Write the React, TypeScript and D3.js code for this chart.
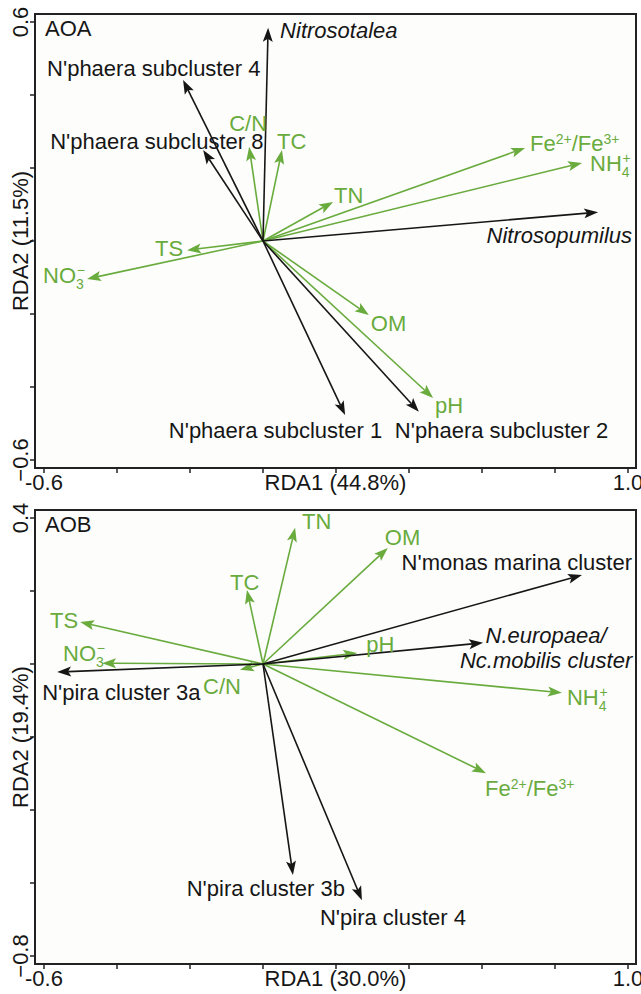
import React, { useEffect } from "react";
import * as d3 from "d3";

// ---- data (RDA1, RDA2 scores) ----
const aoaEnvNames = ["C/N", "TC", "TN", "Fe2+/Fe3+", "NH4+", "TS", "NO3-", "OM", "pH"];
const aoaEnvRDA1 = [-0.038, 0.052, 0.192, 0.718, 0.874, -0.208, -0.482, 0.29, 0.466];
const aoaEnvRDA2 = [0.258, 0.249, 0.107, 0.255, 0.214, -0.025, -0.104, -0.203, -0.43];

const aoaTaxaNames = [
  "Nitrosotalea",
  "N'phaera subcluster 4",
  "N'phaera subcluster 8",
  "Nitrosopumilus",
  "N'phaera subcluster 1",
  "N'phaera subcluster 2",
];
const aoaTaxaRDA1 = [0.014, -0.219, -0.164, 0.918, 0.225, 0.427];
const aoaTaxaRDA2 = [0.584, 0.441, 0.249, 0.079, -0.477, -0.468];

const aobEnvNames = ["TN", "OM", "TC", "TS", "NO3-", "C/N", "pH", "NH4+", "Fe2+/Fe3+"];
const aobEnvRDA1 = [0.088, 0.342, -0.044, -0.501, -0.441, -0.063, 0.258, 0.819, 0.611];
const aobEnvRDA2 = [0.373, 0.318, 0.203, 0.115, 0.002, -0.016, 0.03, -0.079, -0.299];

const aobTaxaNames = [
  "N'monas marina cluster",
  "N.europaea/Nc.mobilis cluster",
  "N'pira cluster 3a",
  "N'pira cluster 3b",
  "N'pira cluster 4",
];
const aobTaxaRDA1 = [0.874, 0.603, -0.564, 0.082, 0.271];
const aobTaxaRDA2 = [0.244, 0.058, -0.022, -0.578, -0.647];

const italicTaxa = ["Nitrosotalea", "Nitrosopumilus", "N.europaea/Nc.mobilis cluster"];

// label placement relative to arrow tip: [dx, dy, anchor]
type Place = [number, number, string];
const aoaPlace: Record<string, Place> = {
  "Nitrosotalea": [12, 2, "start"],
  "N'phaera subcluster 4": [-136, -12, "start"],
  "N'phaera subcluster 8": [-153, -9, "start"],
  "C/N": [-20, -24, "start"],
  "TC": [-5, -9, "start"],
  "TN": [1, -7, "start"],
  "Fe2+/Fe3+": [5, -5, "start"],
  "NH4+": [8, 0, "start"],
  "Nitrosopumilus": [34, 23, "end"],
  "TS": [-4, -2, "end"],
  "NO3-": [-44, -4, "start"],
  "OM": [2, 8, "start"],
  "pH": [2, 7, "start"],
  "N'phaera subcluster 1": [37, 15, "end"],
  "N'phaera subcluster 2": [-24, 18, "start"],
};
const aobPlace: Record<string, Place> = {
  "TN": [7, -7, "start"],
  "OM": [-3, -11, "start"],
  "N'monas marina cluster": [50, -13, "end"],
  "TC": [-17, -8, "start"],
  "TS": [-2, -2, "end"],
  "NO3-": [-39, -10, "start"],
  "N'pira cluster 3a": [-15, 20, "start"],
  "C/N": [-37, 16, "start"],
  "pH": [9, -9, "start"],
  "N.europaea/Nc.mobilis cluster": [63, -8, "middle"],
  "NH4+": [5, 4, "start"],
  "Fe2+/Fe3+": [-1, 15, "start"],
  "N'pira cluster 3b": [52, 13, "end"],
  "N'pira cluster 4": [-42, 17, "start"],
};

const GREEN = "#69ab3d";
const BLACK = "#161616";
const FONT = "'Liberation Sans', Arial, sans-serif";
const FS = 22;

function labelContent(name: string) {
  const small = 14;
  if (name === "NH4+")
    return (
      <>
        NH
        <tspan fontSize={small} dy={6}>4</tspan>
        <tspan fontSize={small} dx={-7} dy={-14}>+</tspan>
      </>
    );
  if (name === "NO3-")
    return (
      <>
        NO
        <tspan fontSize={small} dy={6}>3</tspan>
        <tspan fontSize={small} dx={-7} dy={-14}>−</tspan>
      </>
    );
  if (name === "Fe2+/Fe3+")
    return (
      <>
        Fe
        <tspan fontSize={small} dy={-7}>2+</tspan>
        <tspan dy={7}>/Fe</tspan>
        <tspan fontSize={small} dy={-7}>3+</tspan>
      </>
    );
  if (name === "N.europaea/Nc.mobilis cluster")
    return (
      <>
        <tspan>N.europaea/</tspan>
        <tspan x={0} dy={25}>Nc.mobilis cluster</tspan>
      </>
    );
  return name;
}

type PanelProps = {
  title: string;
  top: number;
  yDomain: [number, number];
  xTitle: string;
  yTitle: string;
  envNames: string[];
  envX: number[];
  envY: number[];
  taxaNames: string[];
  taxaX: number[];
  taxaY: number[];
  place: Record<string, Place>;
};

function Arrow({ x1, y1, x2, y2, color }: any) {
  const len = Math.hypot(x2 - x1, y2 - y1);
  const ux = (x2 - x1) / len;
  const uy = (y2 - y1) / len;
  const hl = 14;
  const hw = 5;
  const bx = x2 - ux * hl;
  const by = y2 - uy * hl;
  const pts = [
    [x2, y2],
    [bx - uy * hw, by + ux * hw],
    [bx + ux * 3, by + uy * 3],
    [bx + uy * hw, by - ux * hw],
  ];
  return (
    <g>
      <line x1={x1} y1={y1} x2={bx + ux * 3} y2={by + uy * 3} stroke={color} strokeWidth={1.6} />
      <polygon points={pts.map((p) => p.join(",")).join(" ")} fill={color} />
    </g>
  );
}

function Panel(p: PanelProps) {
  const height = 438;
  const x = d3.scaleLinear().domain([-0.6, 1.0]).range([44, 628]);
  const y = d3.scaleLinear().domain(p.yDomain).range([p.top + height, p.top]);
  const left = 35,
    right = 636,
    frameTop = p.top - 8,
    frameBottom = p.top + height + 8;
  const xTicks = x.ticks(8);
  const yTicks = y.ticks(6);
  const ox = x(0),
    oy = y(0);

  const items = [
    ...p.envNames.map((n, i) => ({ n, vx: p.envX[i], vy: p.envY[i], c: GREEN })),
    ...p.taxaNames.map((n, i) => ({ n, vx: p.taxaX[i], vy: p.taxaY[i], c: BLACK })),
  ];

  return (
    <g fontFamily={FONT} fontSize={FS}>
      <rect x={left} y={frameTop} width={right - left} height={frameBottom - frameTop} fill="#fdfdfc" stroke="#222" strokeWidth={2} />
      {xTicks.map((t) => (
        <line key={"xt" + t} x1={x(t)} x2={x(t)} y1={frameBottom - 1} y2={frameBottom + 5} stroke="#222" strokeWidth={1.5} />
      ))}
      {yTicks.map((t) => (
        <line key={"yt" + t} x1={left - 5} x2={left + 1} y1={y(t)} y2={y(t)} stroke="#222" strokeWidth={1.5} />
      ))}
      <text x={x(-0.6)} y={frameBottom + 22} textAnchor="middle" fill={BLACK}>-0.6</text>
      <text x={x(1.0)} y={frameBottom + 22} textAnchor="middle" fill={BLACK}>1.0</text>
      <text x={(left + right) / 2} y={frameBottom + 22} textAnchor="middle" fill={BLACK}>{p.xTitle}</text>
      {[p.yDomain[1], p.yDomain[0]].map((t) => (
        <text key={"yl" + t} transform={`translate(28,${y(t)}) rotate(-90)`} textAnchor="middle" fill={BLACK}>
          {d3.format(".1f")(t)}
        </text>
      ))}
      <text transform={`translate(28,${(frameTop + frameBottom) / 2}) rotate(-90)`} textAnchor="middle" fill={BLACK}>
        {p.yTitle}
      </text>
      <text x={45} y={p.top + 14} fill={BLACK}>{p.title}</text>

      {items.map((d) => (
        <Arrow key={"a" + d.n} x1={ox} y1={oy} x2={x(d.vx)} y2={y(d.vy)} color={d.c} />
      ))}
      {items.map((d) => {
        const [dx, dy, anchor] = p.place[d.n];
        const tx = x(d.vx) + dx;
        const ty = y(d.vy) + dy + FS * 0.36;
        return (
          <text
            key={"l" + d.n}
            transform={`translate(${tx},${ty})`}
            textAnchor={anchor}
            fill={d.c}
            fontStyle={italicTaxa.includes(d.n) ? "italic" : "normal"}
          >
            {labelContent(d.n)}
          </text>
        );
      })}
    </g>
  );
}

export default function App() {
  useEffect(() => {
    document.body.style.margin = "0";
  }, []);
  return (
    <svg width={641} height={994} style={{ display: "block", background: "#fff" }}>
      <Panel
        title="AOA"
        top={22}
        yDomain={[-0.6, 0.6]}
        xTitle="RDA1 (44.8%)"
        yTitle="RDA2 (11.5%)"
        envNames={aoaEnvNames}
        envX={aoaEnvRDA1}
        envY={aoaEnvRDA2}
        taxaNames={aoaTaxaNames}
        taxaX={aoaTaxaRDA1}
        taxaY={aoaTaxaRDA2}
        place={aoaPlace}
      />
      <Panel
        title="AOB"
        top={518}
        yDomain={[-0.8, 0.4]}
        xTitle="RDA1 (30.0%)"
        yTitle="RDA2 (19.4%)"
        envNames={aobEnvNames}
        envX={aobEnvRDA1}
        envY={aobEnvRDA2}
        taxaNames={aobTaxaNames}
        taxaX={aobTaxaRDA1}
        taxaY={aobTaxaRDA2}
        place={aobPlace}
      />
    </svg>
  );
}
